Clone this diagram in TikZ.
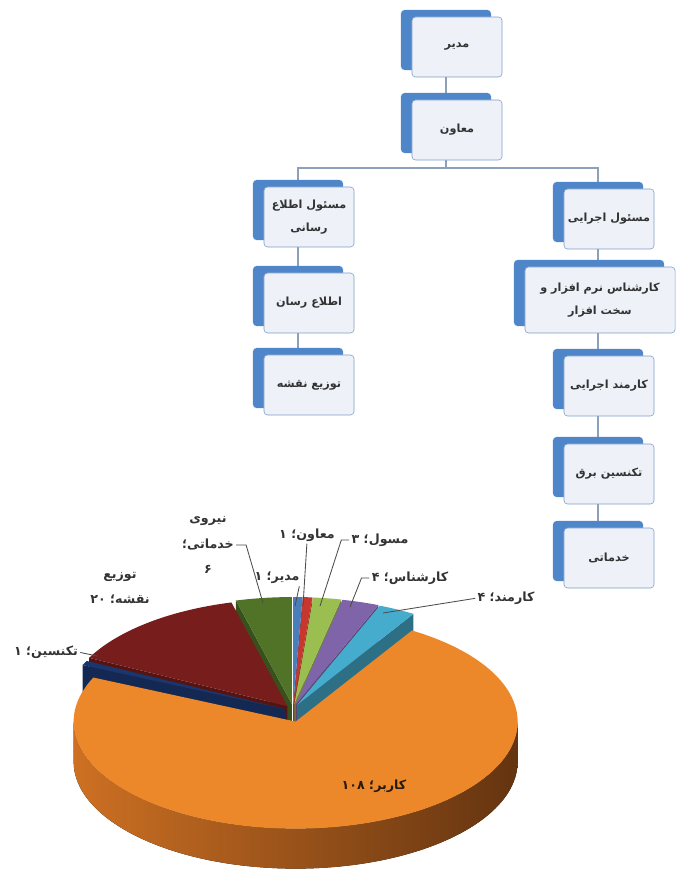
\documentclass[tikz,border=0pt]{standalone}
\usepackage{fontspec}
\usepackage{xcolor}
\usepackage{tikz}
\usetikzlibrary{positioning, calc, shadows, backgrounds}
\TeXXeTstate=1
\newfontfamily\arabicfont[Script=Arabic]{DejaVu Sans}
\definecolor{boxback}{RGB}{79,134,201}
\definecolor{boxedge}{RGB}{126,156,200}
\definecolor{boxfill}{RGB}{238,242,248}
\definecolor{linkgray}{RGB}{140,160,185}
\definecolor{sliceblue}{RGB}{74,126,187}
\definecolor{slicered}{RGB}{200,55,45}
\definecolor{slicelgreen}{RGB}{155,190,80}
\definecolor{slicepurple}{RGB}{128,100,170}
\definecolor{slicecyan}{RGB}{70,172,205}
\definecolor{sliceorange}{RGB}{236,136,42}
\definecolor{sidelight}{RGB}{205,112,35}
\definecolor{sidedark}{RGB}{100,52,16}
\definecolor{slicenavy}{RGB}{25,55,110}
\definecolor{slicemaroon}{RGB}{119,30,28}
\definecolor{slicedgreen}{RGB}{80,115,40}

\newcommand{\fa}[1]{{\arabicfont\beginR #1\endR}}
% top face and cut face of one slice
\newcommand{\pietop}[4]{%
  \fill[#4] (#1) -- ($(#1)+(#2:222 and 107)$) arc[start angle=#2, end angle=#3, x radius=222, y radius=107] -- cycle;}
\newcommand{\pieface}[3]{%
  \fill[#3] (#1) -- ($(#1)+(#2:222 and 107)$) -- ++(0,-40) -- ($(#1)+(0,-40)$) -- cycle;}

\begin{document}
\begin{tikzpicture}[x=0.025cm, y=0.025cm,
  orgbox/.style={draw=boxedge, fill=boxfill, rounded corners=2.5pt, minimum width=2.25cm, minimum height=1.5cm,
    align=center, inner sep=1pt, font=\fontsize{8}{16.5}\selectfont\bfseries, text=black!80,
    general shadow={shadow xshift=-0.275cm, shadow yshift=0.175cm, fill=boxback}},
  link/.style={draw=linkgray, line width=1pt},
  pielabel/.style={align=center, inner sep=0pt, font=\fontsize{9}{18}\selectfont\bfseries, text=black!80},
  leader/.style={draw=black!70, line width=0.6pt, shorten <=1.5pt}]
\useasboundingbox (0,0) rectangle (681,-879);

%% org chart
\node[orgbox] (modir) at (457,-47) {\fa{مدیر}};
\node[orgbox] (moaven) at (457,-130) {\fa{معاون}};
\node[orgbox] (masoulE) at (309,-217) {\fa{مسئول اطلاع}\\\fa{رسانی}};
\node[orgbox] (ettela) at (309,-303) {\fa{اطلاع رسان}};
\node[orgbox] (tozi) at (309,-385) {\fa{توزیع نقشه}};
\node[orgbox] (masoulA) at (609,-219) {\fa{مسئول اجرایی}};
\node[orgbox, minimum width=3.75cm, minimum height=1.65cm] (karshenas) at (600,-300) {\fa{کارشناس نرم افزار و}\\\fa{سخت افزار}};
\node[orgbox] (karmand) at (609,-386) {\fa{کارمند اجرایی}};
\node[orgbox] (tekn) at (609,-474) {\fa{تکنسین برق}};
\node[orgbox] (khadamat) at (609,-558) {\fa{خدماتی}};

\begin{scope}[on background layer]
	\draw[link] ([xshift=-0.275cm]modir.center) -- ([xshift=-0.275cm]moaven.center) -- ++(0,-38);
	\draw[link] ([xshift=-0.275cm]masoulE.center) -- ++(0,49) -| ([xshift=-0.275cm]masoulA.center);
	\draw[link] ([xshift=-0.275cm]masoulE.center) -- ([xshift=-0.275cm]tozi.center);
	\draw[link] ([xshift=-0.275cm]masoulA.center) -- ([xshift=-0.275cm]khadamat.center);
\end{scope}

%% pie chart
\coordinate (O) at (293,-713);
\coordinate (akhad) at ($(O)+(97.30:9)$);
\coordinate (atozi) at ($(O)+(128.92:9)$);
\coordinate (atekn) at ($(O)+(154.46:9)$);
\coordinate (amodir) at ($(O)+(88.78:9)$);
\coordinate (amoaven) at ($(O)+(86.35:9)$);
\coordinate (amasoul) at ($(O)+(81.49:9)$);
\coordinate (akarsh) at ($(O)+(72.97:9)$);
\coordinate (akarm) at ($(O)+(63.24:9)$);
\coordinate (akarbar) at ($(O)+(-72.97:9)$);

\pieface{akhad}{104.59}{slicedgreen!70!black}
\pietop{akhad}{104.59}{90}{slicedgreen}
\pieface{atozi}{153.24}{slicemaroon!70!black}
\pietop{atozi}{153.24}{104.59}{slicemaroon}
\pieface{atekn}{155.68}{slicenavy!75!black}
\pietop{atekn}{155.68}{153.24}{slicenavy}

\pieface{amodir}{87.57}{sliceblue!70!black}
\pietop{amodir}{90}{87.57}{sliceblue}
\pieface{amoaven}{85.14}{slicered!70!black}
\pietop{amoaven}{87.57}{85.14}{slicered}
\pieface{amasoul}{77.84}{slicelgreen!70!black}
\pietop{amasoul}{85.14}{77.84}{slicelgreen}
\pieface{akarsh}{68.11}{slicepurple!70!black}
\pietop{akarsh}{77.84}{68.11}{slicepurple}
\pieface{akarm}{58.38}{slicecyan!65!black}
\pietop{akarm}{68.11}{58.38}{slicecyan}

\fill[left color=sidelight, right color=sidedark] ($(akarbar)+(180:222 and 107)$) arc[start angle=180, end angle=360, x radius=222, y radius=107] -- ++(0,-40) arc[start angle=360, end angle=180, x radius=222, y radius=107] -- cycle;
\pietop{akarbar}{58.38}{-204.32}{sliceorange}

%% labels
\node[pielabel] (lkhadamat) at (208,-545) {\fa{نیروی}\\\fa{خدماتی؛}\\\fa{۶}};
\node[pielabel] (ltozi) at (120,-588) {\fa{توزیع}\\\fa{نقشه؛ ۲۰}};
\node[pielabel] (ltekn) at (46,-652) {\fa{تکنسین؛ ۱}};
\node[pielabel] (lmodir) at (277,-578) {\fa{مدیر؛ ۱}};
\node[pielabel] (lmoaven) at (307,-535) {\fa{معاون؛ ۱}};
\node[pielabel] (lmasoul) at (380,-540) {\fa{مسول؛ ۳}};
\node[pielabel] (lkarsh) at (410,-578) {\fa{کارشناس؛ ۴}};
\node[pielabel] (lkarm) at (506,-598) {\fa{کارمند؛ ۴}};
\node[pielabel, text=black!80!brown] (lkarbar) at (374,-786) {\fa{کاربر؛ ۱۰۸}};

\coordinate (pkhadamat) at (263,-603);
\coordinate (pmodir) at (295,-606);
\coordinate (pmoaven) at (303,-606);
\coordinate (pmasoul) at (320,-606);
\coordinate (pkarsh) at (350,-607);
\coordinate (pkarm) at (383,-613);
\coordinate (ptekn) at (97,-656);

\draw[leader] (lkhadamat.east) -- ++(12,0) -- (pkhadamat);
\draw[leader] (ltekn.east) -- (ptekn);
\draw[leader] (lmodir.south east) -- (pmodir);
\draw[leader] (lmoaven.south) -- (pmoaven);
\draw[leader] (lmasoul.west) -- ++(-10,0) -- (pmasoul);
\draw[leader] (lkarsh.west) -- ++(-10,0) -- (pkarsh);
\draw[leader] (lkarm.west) -- (pkarm);
\end{tikzpicture}
\end{document}
